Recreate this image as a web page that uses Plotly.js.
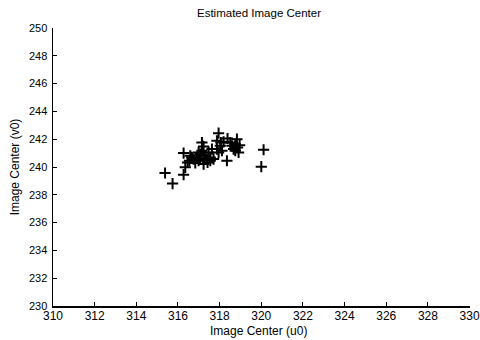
<!DOCTYPE html>
<html>
<head>
<meta charset="utf-8">
<script src="https://cdn.plot.ly/plotly-3.0.1.min.js"></script>
<style>html,body{margin:0;padding:0;background:#fff;}#chart{width:480px;height:340px;}</style>
</head>
<body>
<div id="chart"></div>
<script>
const u0 = [315.38,315.74,316.27,316.35,316.27,316.59,316.46,316.75,316.83,316.91,
            316.99,317.07,317.15,317.23,317.15,317.31,317.39,317.42,317.47,317.55,
            317.63,317.23,317.07,317.87,317.95,317.87,318.03,318.11,318.19,318.38,
            318.35,318.59,318.67,318.75,318.83,318.86,318.91,318.96,320.11,320.00,
            316.67,316.55,317.71,317.95,318.06,318.51,318.75,316.99,317.23,317.55];
const v0 = [239.57,238.81,239.45,239.98,241.00,240.81,240.33,240.57,240.29,240.69,
            240.45,240.93,241.76,241.48,241.17,240.81,240.57,240.33,241.05,240.69,
            241.29,240.57,240.62,241.29,242.43,241.88,241.52,241.17,241.81,242.05,
            240.45,241.52,241.29,241.64,242.00,241.40,241.05,241.57,241.24,240.02,
            240.69,240.45,240.57,241.05,241.76,241.76,241.17,241.05,240.21,240.45];
const xTicks = [310,312,314,316,318,320,322,324,326,328,330];
const yTicks = [230,232,234,236,238,240,242,244,246,248,250];

const font = {family: 'Liberation Sans, Arial, sans-serif', size: 12, color: '#000'};
const yfont = {family: font.family, size: 11, color: '#000'};
Plotly.newPlot('chart', [{
  x: u0, y: v0, type: 'scatter', mode: 'markers',
  marker: {symbol: 'cross-thin', size: 8, line: {width: 2, color: '#000'}, color: '#000'}
}], {
  width: 480, height: 340,
  margin: {l: 53, r: 10, t: 28, b: 34},
  paper_bgcolor: '#fff', plot_bgcolor: '#fff',
  showlegend: false,
  font: font,
  title: {text: 'Estimated Image Center', font: {family: font.family, size: 11.5, color: '#000'}, x: 0.494, xref: 'paper', xanchor: 'center', y: 0.962, yanchor: 'middle'},
  xaxis: {
    range: [310, 330.02], tickvals: xTicks, ticktext: xTicks.map(String),
    showgrid: false, zeroline: false, showline: true, linecolor: '#000', linewidth: 1.5,
    ticks: 'inside', ticklen: 4, tickcolor: '#000', tickfont: font, ticklabelstandoff: -2
  },
  yaxis: {
    range: [230, 250], tickvals: yTicks, ticktext: yTicks.map(String),
    showgrid: false, zeroline: false, showline: true, linecolor: '#000', linewidth: 1.5,
    ticks: 'inside', ticklen: 4, tickcolor: '#000', tickfont: yfont, ticklabelstandoff: 2,
    title: {text: 'Image Center (v0)', font: font, standoff: 6}
  },
  annotations: [{
    text: 'Image Center (u0)', xref: 'paper', yref: 'paper', x: 0.494, y: 0, yshift: -25,
    xanchor: 'center', yanchor: 'middle', showarrow: false, font: font
  }]
}, {staticPlot: true});
</script>
</body>
</html>
